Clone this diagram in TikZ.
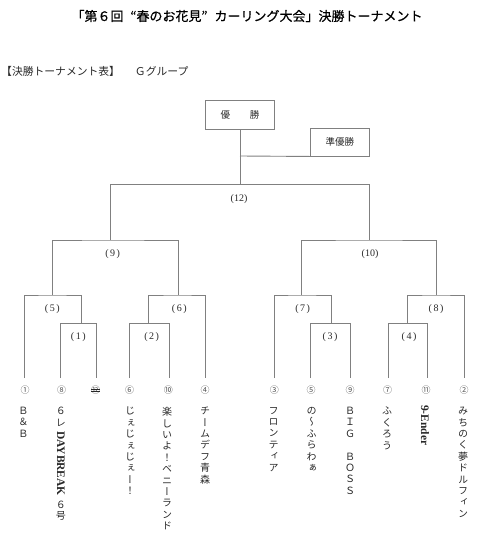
\documentclass[tikz,border=0pt]{standalone}
\usepackage{fontspec}
\usepackage{graphicx}
\setmainfont{Liberation Serif}
\newfontfamily\jp{Noto Sans CJK JP}
\newfontfamily\jpt[FakeBold=0.6]{Noto Sans CJK JP}
\newfontfamily\vjp[RawFeature=+vert]{Noto Sans CJK JP}
\newfontfamily\lat{Liberation Serif}
\definecolor{lineg}{RGB}{128,128,128}
\definecolor{txt}{RGB}{40,40,40}
\newcommand{\rotlat}[1]{\rotatebox[origin=c]{-90}{\lat\bfseries\fontsize{11.5}{12}\selectfont #1}}
\begin{document}
\begin{tikzpicture}[x=1pt,y=-1pt,
  line/.style={draw=lineg,line width=0.9pt},
  boxnode/.style={draw=lineg,line width=0.9pt,inner sep=0,text=txt,font=\jp\fontsize{9.5}{11}\selectfont},
  lbl/.style={inner sep=0,text=txt,font=\lat\fontsize{10}{11}\selectfont},
  num/.style={inner sep=0,text=txt!80,font=\jp\fontsize{9}{10}\selectfont},
  team/.style={inner sep=0,anchor=north,align=center,text=txt,font=\vjp\fontsize{10}{11.4}\selectfont}]
\useasboundingbox (0,0) rectangle (480,547);

% title and subtitle
\node[inner sep=0,text=black,font=\jpt\fontsize{13}{14}\selectfont] (title) at (247,16) {「第６回\makebox[13pt][r]{“}春のお花見\makebox[13pt][l]{”}カーリング大会」決勝トーナメント};
\node[inner sep=0,anchor=west,text=txt,font=\jp\fontsize{10.8}{12}\selectfont] (sub) at (1,71.7) {【決勝トーナメント表】\hspace{15pt}Ｇグループ};

% winner boxes
\node[boxnode,minimum width=68.3pt,minimum height=29pt] (win) at (240,114.5) {優\hspace{20pt}勝};
\node[boxnode,minimum width=58.3pt,minimum height=28pt] (run) at (339.85,142) {準優勝};
\coordinate (j) at (240,156);

% leaf coordinates
\coordinate (L1) at (24.3,378);
\coordinate (L8) at (60.3,378);
\coordinate (L12) at (96,378);
\coordinate (L6) at (129.7,378);
\coordinate (L10) at (169.3,378);
\coordinate (L4) at (205.7,378);
\coordinate (L3) at (274,378);
\coordinate (L5) at (310.3,378);
\coordinate (L9) at (350,378);
\coordinate (L7) at (388.7,378);
\coordinate (L11) at (427.7,378);
\coordinate (L2) at (464.3,378);

% match joints
\coordinate (m1) at (81,323.3);
\coordinate (m2) at (148.7,323.3);
\coordinate (m3) at (331,323.3);
\coordinate (m4) at (407.3,323.3);
\coordinate (m5) at (52,295);
\coordinate (m6) at (178,295);
\coordinate (m7) at (301.7,295);
\coordinate (m8) at (436.7,295);
\coordinate (m9) at (110.7,240);
\coordinate (m10) at (369.3,240);
\coordinate (m12) at (240,184.7);

% brackets
\draw[line] (L8) |- (m1) -| (L12);
\draw[line] (L1) |- (m5) -| (m1);
\draw[line] (L6) |- (m2) -| (L10);
\draw[line] (m2) |- (m6) -| (L4);
\draw[line] (m5) |- (m9) -| (m6);
\draw[line] (L5) |- (m3) -| (L9);
\draw[line] (L3) |- (m7) -| (m3);
\draw[line] (L7) |- (m4) -| (L11);
\draw[line] (m4) |- (m8) -| (L2);
\draw[line] (m7) |- (m10) -| (m8);
\draw[line] (m9) |- (m12) -| (m10);
\draw[line] (m12) -- (win.south);
\draw[line] (j) -- (run.south west);

% match labels
\node[lbl] (t12) at (239,199) {(12)};
\node[lbl] (t9) at (112.7,254) {(\hspace{1.5pt}9\hspace{1.5pt})};
\node[lbl] (t10) at (370,254) {(10)};
\node[lbl] (t5) at (52.3,309.3) {(\hspace{1.5pt}5\hspace{1.5pt})};
\node[lbl] (t1) at (78.3,337.3) {(\hspace{1.5pt}1\hspace{1.5pt})};
\node[lbl] (t6) at (179.3,309.3) {(\hspace{1.5pt}6\hspace{1.5pt})};
\node[lbl] (t2) at (151.7,337.3) {(\hspace{1.5pt}2\hspace{1.5pt})};
\node[lbl] (t7) at (302.7,309.3) {(\hspace{1.5pt}7\hspace{1.5pt})};
\node[lbl] (t3) at (330,337.3) {(\hspace{1.5pt}3\hspace{1.5pt})};
\node[lbl] (t8) at (436,309.3) {(\hspace{1.5pt}8\hspace{1.5pt})};
\node[lbl] (t4) at (409,337.3) {(\hspace{1.5pt}4\hspace{1.5pt})};

% seed numbers
\node[num] (n1) at (25,390) {①};
\node[num] (n8) at (61.7,390) {⑧};
\node[num] (n12) at (95.7,390) {⑫};
\node[num] (n6) at (129.7,390) {⑥};
\node[num] (n10) at (168.3,390) {⑩};
\node[num] (n4) at (205,390) {④};
\node[num] (n3) at (274.3,390) {③};
\node[num] (n5) at (311,390) {⑤};
\node[num] (n9) at (350,390) {⑨};
\node[num] (n7) at (387.7,390) {⑦};
\node[num] (n11) at (426,390) {⑪};
\node[num] (n2) at (464,390) {②};
\draw[txt,line width=0.4pt] (n12.west |- 0,388.8) -- (n12.east |- 0,388.8);
\draw[txt,line width=0.4pt] (n12.west |- 0,391.2) -- (n12.east |- 0,391.2);

% team names (vertical)
\node[team] (a1) at (23.5,407) {Ｂ\\＆\\Ｂ};
\node[team] (a8) at (61,407) {６\\レ\\[4pt]\rotlat{DAYBREAK}\\[4pt]６\\号};
\node[team] (a6) at (130,407) {じ\\ぇ\\じ\\ぇ\\じ\\ぇ\\ー\\！};
\node[team] (a10) at (167,407) {楽\\し\\い\\よ\\！\\ベ\\ニ\\ー\\ラ\\ン\\ド};
\node[team] (a4) at (205,407) {チ\\ー\\ム\\デ\\フ\\青\\森};
\node[team] (a3) at (273.5,407) {フ\\ロ\\ン\\テ\\ィ\\ア};
\node[team] (a5) at (311.5,407) {の\\～\\ふ\\ら\\わ\\ぁ};
\node[team] (a9) at (350,407) {Ｂ\\Ｉ\\Ｇ\\　\\Ｂ\\Ｏ\\Ｓ\\Ｓ};
\node[team] (a7) at (387,407) {ふ\\く\\ろ\\う};
\node[team] (a11) at (425,405) {\rotlat{9-Ender}};
\node[team] (a2) at (463,407) {み\\ち\\の\\く\\夢\\ド\\ル\\フ\\ィ\\ン};
\end{tikzpicture}
\end{document}
